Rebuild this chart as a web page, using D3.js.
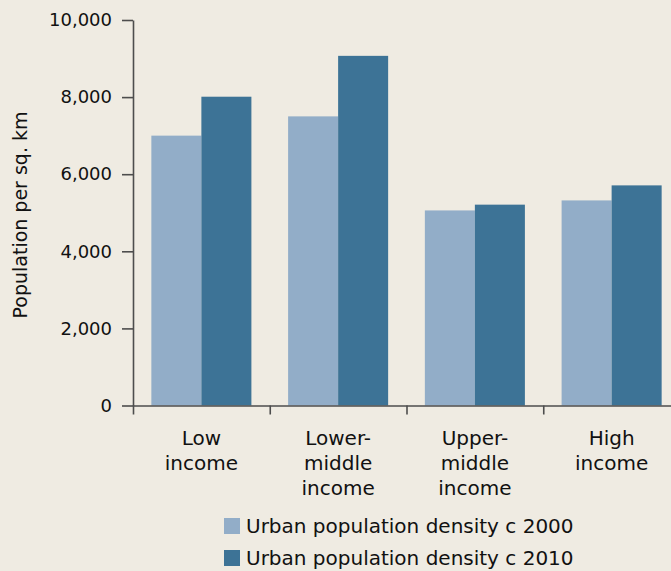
<!DOCTYPE html>
<html>
<head>
<meta charset="utf-8">
<script src="https://cdn.jsdelivr.net/npm/d3@7"></script>
<style>
  html, body { margin: 0; padding: 0; background: #efebe2; }
  svg { display: block; font-family: "DejaVu Sans", sans-serif; }
  .axis text { font-family: "DejaVu Sans", sans-serif; font-size: 18px; fill: #111; }
  .axis path, .axis line { stroke: #4d4d4d; stroke-width: 1.6; }
</style>
</head>
<body>
<script>

// chart data
var categories = ["Low income", "Lower-middle income", "Upper-middle income", "High income"];
var categoryLines = [["Low", "income"], ["Lower-", "middle", "income"], ["Upper-", "middle", "income"], ["High", "income"]];
var seriesNames = ["Urban population density c 2000", "Urban population density c 2010"];
var density2000 = [7000, 7500, 5060, 5320];
var density2010 = [8010, 9070, 5210, 5710];
var yTicks = [0, 2000, 4000, 6000, 8000, 10000];
var colors = ["#92adc8", "#3d7396"];

var width = 671, height = 571;
var plotLeft = 133, plotTop = 20, plotBottom = 405.5, plotRight = 680;

var svg = d3.select("body").append("svg")
  .attr("width", width)
  .attr("height", height);

var y = d3.scaleLinear()
  .domain([0, 10000])
  .range([plotBottom, plotTop]);

var x0 = d3.scaleBand()
  .domain(categories)
  .range([plotLeft, plotRight])
  .padding(0);

var x1 = d3.scaleBand()
  .domain(seriesNames)
  .range([0, x0.bandwidth()])
  .paddingInner(0)
  .paddingOuter(0.367);

// boundaries between categories, for the x ticks
var xEdge = d3.scaleLinear()
  .domain([0, categories.length])
  .range([plotLeft, plotRight]);

var rows = categories.map(function(c, i) {
  return { cat: c, values: [density2000[i], density2010[i]] };
});

// bars
var groups = svg.append("g")
  .selectAll("g")
  .data(rows)
  .enter().append("g")
  .attr("transform", function(d) { return "translate(" + x0(d.cat) + ",0)"; });

groups.selectAll("rect")
  .data(function(d) { return d.values.map(function(v, j) { return { name: seriesNames[j], value: v, j: j }; }); })
  .enter().append("rect")
  .attr("x", function(d) { return x1(d.name); })
  .attr("y", function(d) { return y(d.value); })
  .attr("width", x1.bandwidth())
  .attr("height", function(d) { return plotBottom - y(d.value); })
  .attr("fill", function(d) { return colors[d.j]; });

// x axis
svg.append("g")
  .attr("class", "x axis")
  .attr("transform", "translate(0," + plotBottom + ")")
  .call(d3.axisBottom(xEdge).tickValues(d3.range(categories.length + 1)).tickFormat("").tickSize(9).tickSizeOuter(0));

// y axis
svg.append("g")
  .attr("class", "y axis")
  .attr("transform", "translate(" + plotLeft + ",0)")
  .call(d3.axisLeft(y).tickValues(yTicks).tickFormat(d3.format(",")).tickSize(11).tickPadding(10).tickSizeOuter(0));

// category labels
var labels = svg.append("g")
  .selectAll("text")
  .data(categories)
  .enter().append("text")
  .attr("x", function(d) { return x0(d) + x0.bandwidth() / 2; })
  .attr("y", 445)
  .attr("text-anchor", "middle")
  .style("font-size", "20px")
  .style("fill", "#111");

labels.selectAll("tspan")
  .data(function(d, i) { return categoryLines[i]; })
  .enter().append("tspan")
  .attr("x", function() { return d3.select(this.parentNode).attr("x"); })
  .attr("dy", function(d, k) { return k === 0 ? 0 : 25; })
  .text(function(d) { return d; });

// y axis title
svg.append("text")
  .attr("transform", "translate(27,215) rotate(-90)")
  .attr("text-anchor", "middle")
  .style("font-size", "19px")
  .style("fill", "#111")
  .text("Population per sq. km");

// legend
var legend = svg.append("g")
  .selectAll("g")
  .data(seriesNames)
  .enter().append("g")
  .attr("transform", function(d, i) { return "translate(224," + (518 + i * 32) + ")"; });

legend.append("rect")
  .attr("width", 16)
  .attr("height", 16)
  .attr("fill", function(d, i) { return colors[i]; });

legend.append("text")
  .attr("x", 22)
  .attr("y", 15)
  .style("font-size", "20px")
  .style("fill", "#111")
  .text(function(d) { return d; });

</script>
</body>
</html>
